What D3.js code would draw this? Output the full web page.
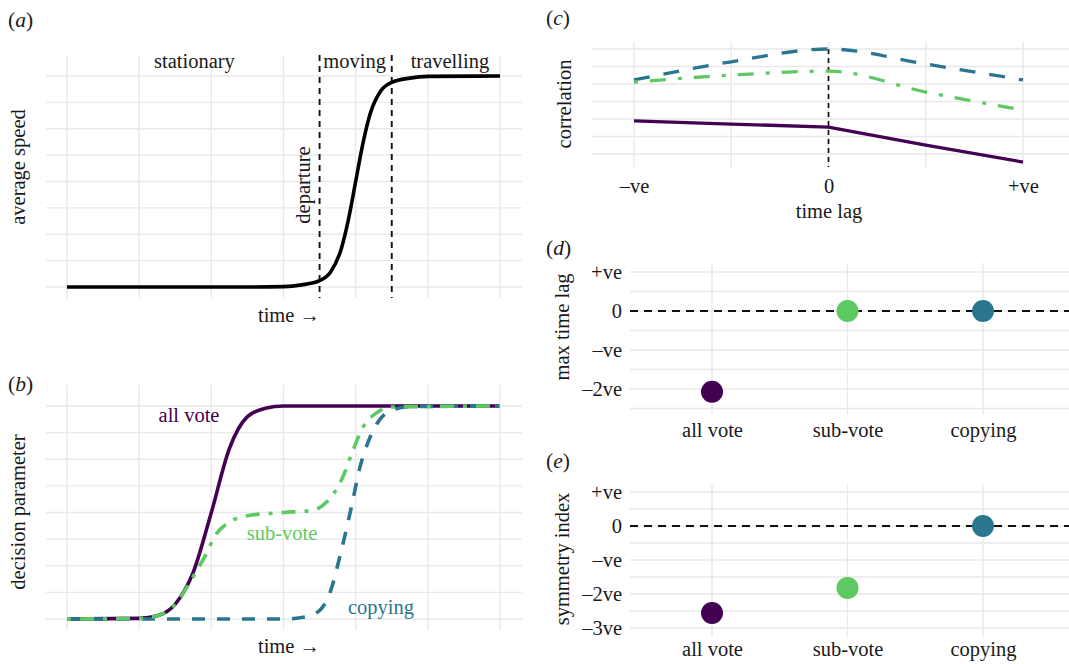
<!DOCTYPE html>
<html>
<head>
<meta charset="utf-8">
<script src="https://cdn.jsdelivr.net/npm/d3@7"></script>
<style>
  html, body { margin: 0; padding: 0; background: #fff; }
  svg { display: block; }
  text { font-family: "Liberation Serif", "Times New Roman", serif; fill: #1a1a1a; }
</style>
</head>
<body>
<svg id="chart" width="1069" height="664"></svg>
<script>
// ---------------- data ----------------
// panel (a): average speed over time (time in grid units 0..6, speed 0..1)
const speedTime  = [0, 2.5, 3.0, 3.25, 3.5, 3.65, 3.8, 3.9, 4.0, 4.1, 4.2, 4.35, 4.5, 4.75, 5.0, 6.0];
const speedValue = [0, 0, 0.002, 0.01, 0.03, 0.07, 0.18, 0.32, 0.5, 0.68, 0.82, 0.93, 0.97, 0.99, 0.998, 1];
const phaseBreaks = [3.5, 4.5];
const phaseLabels = ["stationary", "moving", "travelling"];
const phaseCentres = [1.78, 4.0, 5.32];

// panel (b): decision parameter over time
const voteTime  = [0, 1.0, 1.25, 1.5, 1.75, 2.0, 2.25, 2.5, 2.75, 3.0, 6.0];
const voteValue = [0, 0.003, 0.015, 0.07, 0.22, 0.5, 0.8, 0.95, 0.99, 1, 1];
const subTime   = [0, 1.0, 1.25, 1.5, 1.75, 1.92, 2.05, 2.25, 2.5, 3.0, 3.4, 3.6, 3.8, 3.95, 4.1, 4.3, 4.5, 6.0];
const subValue  = [0, 0.003, 0.015, 0.07, 0.2, 0.3, 0.39, 0.455, 0.485, 0.5, 0.51, 0.55, 0.65, 0.78, 0.9, 0.97, 0.995, 1];
const copyTime  = [0, 3.0, 3.3, 3.5, 3.65, 3.8, 3.95, 4.05, 4.15, 4.3, 4.5, 4.75, 6.0];
const copyValue = [0, 0, 0.01, 0.04, 0.13, 0.32, 0.54, 0.7, 0.81, 0.92, 0.98, 0.997, 1];

// panel (c): correlation against time lag
const lagValues = [-1, -0.5, 0, 0.5, 1];
const lagTicks = [-1, 0, 1];
const lagTickLabels = ["\u2013ve", "0", "+ve"];
const corrAllVote = [1.89, 1.71, 1.54, 0.51, -0.46];
const corrSubVote = [4.11, 4.51, 4.74, 3.54, 2.51];
const corrCopying = [4.23, 5.27, 6.0, 5.14, 4.23];

// panels (d) and (e)
const categories = ["all vote", "sub-vote", "copying"];
const maxTimeLag = [-2.07, 0, 0];
const symmetryIndex = [-2.56, -1.82, 0];
const dTicks = [1, 0, -1, -2];
const dTickLabels = ["+ve", "0", "\u2013ve", "\u20132ve"];
const eTicks = [1, 0, -1, -2, -3];
const eTickLabels = ["+ve", "0", "\u2013ve", "\u20132ve", "\u20133ve"];

const colours = { "all vote": "#440154", "sub-vote": "#5ec962", "copying": "#2a768e" };

// ---------------- drawing ----------------
const svg = d3.select("#chart");
svg.append("rect").attr("width", 1069).attr("height", 664).attr("fill", "#fff");
const FS = "20.5px";
const GRID = "#e9e9e9";
const LW = 3.6;

function panelLabel(x, y, letter) {
  const t = svg.append("text").attr("x", x).attr("y", y).style("font-size", "21.5px");
  t.append("tspan").text("(");
  t.append("tspan").style("font-style", "italic").text(letter);
  t.append("tspan").text(")");
}
function yTitle(x, cy, label) {
  svg.append("text").attr("transform", `translate(${x},${cy}) rotate(-90)`)
    .attr("text-anchor", "middle").style("font-size", FS).text(label);
}
function hGrid(g, ys, x0, x1) {
  g.selectAll(null).data(ys).join("line")
    .attr("x1", x0).attr("x2", x1).attr("y1", d => d).attr("y2", d => d)
    .attr("stroke", GRID).attr("stroke-width", 1.4);
}
function vGrid(g, xs, y0, y1) {
  g.selectAll(null).data(xs).join("line")
    .attr("x1", d => d).attr("x2", d => d).attr("y1", y0).attr("y2", y1)
    .attr("stroke", GRID).attr("stroke-width", 1.4);
}
const zip = (a, b) => a.map((v, i) => [v, b[i]]);

// ---------- panel (a) ----------
{
  const x = d3.scaleLinear().domain([0, 6]).range([67, 500]);
  const y = d3.scaleLinear().domain([0, 1]).range([287, 76]);
  const g = svg.append("g");
  hGrid(g, d3.range(0, 1.0001, 0.125).map(y), 46, 522);
  vGrid(g, d3.range(0, 7).map(x), 55, 298);
  const line = d3.line().x(d => x(d[0])).y(d => y(d[1])).curve(d3.curveMonotoneX);
  g.selectAll(null).data(phaseBreaks).join("line")
    .attr("x1", d => x(d)).attr("x2", d => x(d)).attr("y1", 55).attr("y2", 298)
    .attr("stroke", "#111").attr("stroke-width", 1.9).attr("stroke-dasharray", "6,5");
  g.append("path").datum(zip(speedTime, speedValue)).attr("d", line)
    .attr("fill", "none").attr("stroke", "#000").attr("stroke-width", LW);
  g.selectAll(null).data(phaseLabels).join("text")
    .attr("x", (d, i) => x(phaseCentres[i]) - 1).attr("y", 68)
    .attr("text-anchor", "middle").style("font-size", FS).text(d => d);
  svg.append("text").attr("transform", `translate(310,185) rotate(-90)`)
    .attr("text-anchor", "middle").style("font-size", FS).text("departure");
  svg.append("text").attr("x", 289).attr("y", 322).attr("text-anchor", "middle")
    .style("font-size", FS).text("time \u2192");
  yTitle(25, 167, "average speed");
  panelLabel(8, 27, "a");
}

// ---------- panel (b) ----------
{
  const x = d3.scaleLinear().domain([0, 6]).range([67, 500]);
  const y = d3.scaleLinear().domain([0, 1]).range([619, 406]);
  const g = svg.append("g");
  hGrid(g, d3.range(0, 1.0001, 0.125).map(y), 46, 522);
  vGrid(g, d3.range(0, 7).map(x), 385, 630);
  const line = d3.line().x(d => x(d[0])).y(d => y(d[1])).curve(d3.curveMonotoneX);
  g.append("path").datum(zip(voteTime, voteValue)).attr("d", line)
    .attr("fill", "none").attr("stroke", colours["all vote"]).attr("stroke-width", LW);
  g.append("path").datum(zip(copyTime, copyValue)).attr("d", line)
    .attr("fill", "none").attr("stroke", colours["copying"]).attr("stroke-width", LW)
    .attr("stroke-dasharray", "13,12");
  g.append("path").datum(zip(subTime, subValue)).attr("d", line)
    .attr("fill", "none").attr("stroke", colours["sub-vote"]).attr("stroke-width", LW)
    .attr("stroke-dasharray", "4,9,14,9");
  svg.append("text").attr("x", 189).attr("y", 422).attr("text-anchor", "middle")
    .style("font-size", FS).style("fill", colours["all vote"]).text("all vote");
  svg.append("text").attr("x", 282).attr("y", 540).attr("text-anchor", "middle")
    .style("font-size", FS).style("fill", colours["sub-vote"]).text("sub-vote");
  svg.append("text").attr("x", 381).attr("y", 614).attr("text-anchor", "middle")
    .style("font-size", FS).style("fill", colours["copying"]).text("copying");
  svg.append("text").attr("x", 289).attr("y", 653).attr("text-anchor", "middle")
    .style("font-size", FS).text("time \u2192");
  yTitle(25, 512, "decision parameter");
  panelLabel(8, 391, "b");
}

// ---------- panel (c) ----------
{
  const x = d3.scaleLinear().domain([-1, 1]).range([634, 1023]);
  const y = d3.scaleLinear().domain([0, 6]).range([154, 49]);
  const g = svg.append("g");
  hGrid(g, d3.range(0, 7).map(y), 592, 1069);
  vGrid(g, [-1, -0.5, 0, 0.5, 1].map(x), 42, 167);
  g.append("line").attr("x1", x(0)).attr("x2", x(0)).attr("y1", 49).attr("y2", 167)
    .attr("stroke", "#111").attr("stroke-width", 1.7).attr("stroke-dasharray", "5,4");
  const line = d3.line().x(d => x(d[0])).y(d => y(d[1])).curve(d3.curveMonotoneX);
  g.append("path").datum(zip(lagValues, corrCopying)).attr("d", line)
    .attr("fill", "none").attr("stroke", colours["copying"]).attr("stroke-width", 3.3)
    .attr("stroke-dasharray", "16,14");
  g.append("path").datum(zip(lagValues, corrSubVote)).attr("d", line)
    .attr("fill", "none").attr("stroke", colours["sub-vote"]).attr("stroke-width", 3.3)
    .attr("stroke-dasharray", "4,12,16,12");
  g.append("path").datum(zip(lagValues, corrAllVote)).attr("d", d3.line().x(d => x(d[0])).y(d => y(d[1])))
    .attr("fill", "none").attr("stroke", colours["all vote"]).attr("stroke-width", 3.3);
  const ax = svg.append("g").attr("transform", "translate(0,178.5)")
    .call(d3.axisBottom(x).tickValues(lagTicks).tickFormat((d, i) => lagTickLabels[i]).tickSize(0).tickPadding(0));
  ax.select(".domain").remove();
  ax.selectAll("text").style("font-size", FS).style("font-family", "Liberation Serif, serif").attr("fill", "#1a1a1a");
  svg.append("text").attr("x", 829).attr("y", 218).attr("text-anchor", "middle")
    .style("font-size", FS).text("time lag");
  yTitle(571, 104, "correlation");
  panelLabel(546, 25, "c");
}

// ---------- panels (d) and (e) ----------
function dotPanel(opts) {
  const x = d3.scalePoint().domain(categories).range([712, 983]);
  const y = d3.scaleLinear().domain(opts.domain).range(opts.range);
  const g = svg.append("g");
  hGrid(g, d3.range(opts.domain[0], opts.domain[1] + 0.001, 0.5).map(y), 630, 1069);
  vGrid(g, categories.map(x), opts.vTop, opts.vBottom);
  g.append("line").attr("x1", 630).attr("x2", 1069).attr("y1", y(0)).attr("y2", y(0))
    .attr("stroke", "#111").attr("stroke-width", 2).attr("stroke-dasharray", "8,6");
  g.selectAll(null).data(categories).join("circle")
    .attr("cx", d => x(d)).attr("cy", (d, i) => y(opts.values[i])).attr("r", 11)
    .attr("fill", d => colours[d]);
  const ay = svg.append("g").attr("transform", "translate(622,0)")
    .call(d3.axisLeft(y).tickValues(opts.ticks).tickFormat((d, i) => opts.tickLabels[i]).tickSize(0).tickPadding(0));
  ay.select(".domain").remove();
  ay.selectAll("text").style("font-size", FS).style("font-family", "Liberation Serif, serif").attr("fill", "#1a1a1a");
  const ax = svg.append("g").attr("transform", `translate(0,${opts.catY})`)
    .call(d3.axisBottom(x).tickSize(0).tickPadding(0));
  ax.select(".domain").remove();
  ax.selectAll("text").style("font-size", FS).style("font-family", "Liberation Serif, serif").attr("fill", "#1a1a1a");
  yTitle(opts.titleX, opts.titleY, opts.title);
  panelLabel(546, opts.labelY, opts.letter);
}
dotPanel({ domain: [-2.5, 1], range: [408.5, 272], values: maxTimeLag, ticks: dTicks, tickLabels: dTickLabels,
  vTop: 263, vBottom: 415, catY: 422.5, title: "max time lag", titleX: 569, titleY: 327, letter: "d", labelY: 255 });
dotPanel({ domain: [-3, 1], range: [628, 492], values: symmetryIndex, ticks: eTicks, tickLabels: eTickLabels,
  vTop: 485, vBottom: 637, catY: 641, title: "symmetry index", titleX: 569, titleY: 559, letter: "e", labelY: 468 });
</script>
</body>
</html>
